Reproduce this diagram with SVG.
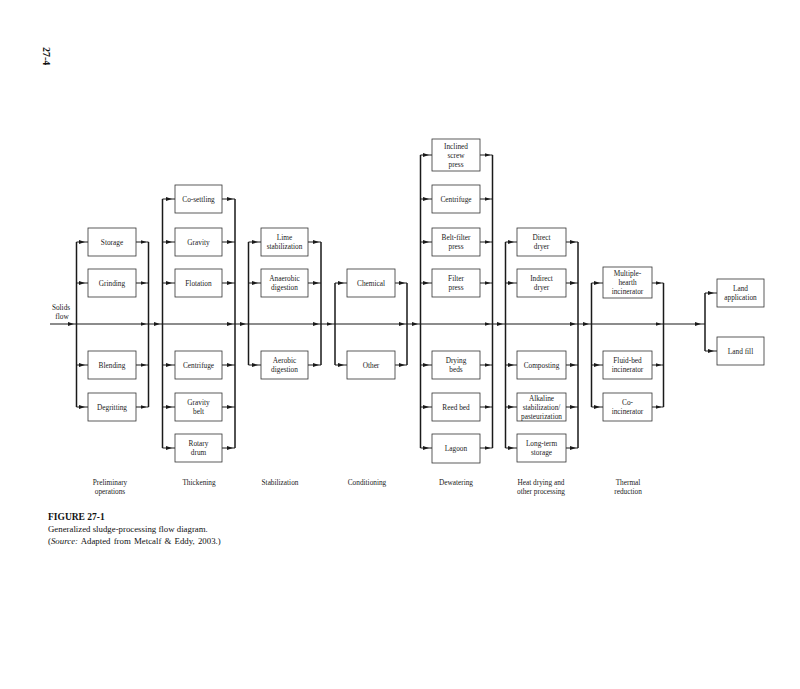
<svg xmlns="http://www.w3.org/2000/svg" width="800" height="689" viewBox="0 0 800 689">
<style>
.bg{fill:#fff}
.box{fill:#fff;stroke:#333;stroke-width:0.8}
.t{font-family:"Liberation Serif","Times New Roman",serif;font-size:7.3px;fill:#222;text-anchor:middle}
.bus{fill:none;stroke:#1a1a1a;stroke-width:1.5}
.ln{fill:none;stroke:#1a1a1a;stroke-width:1;marker-mid:url(#a)}
.main{fill:none;stroke:#1a1a1a;stroke-width:1.2;marker-mid:url(#a)}
.cap{font-family:"Liberation Serif","Times New Roman",serif;fill:#111}
</style>
<defs>
<marker id="a" viewBox="0 0 6 4" refX="6" refY="2" markerWidth="6" markerHeight="4" markerUnits="userSpaceOnUse" orient="auto"><path d="M0,0 L6,2 L0,4 z" fill="#1a1a1a"/></marker>
</defs>
<rect class="bg" x="0" y="0" width="800" height="689"/>
<text class="cap" x="0" y="0" font-size="10" font-weight="bold" transform="translate(43,47) rotate(90)">27-4</text>

<g id="connectors">
<path class="main" d="M50 324 H74 H146.5 H160 H233 H246 H319 H332.5 H405 H418 H490.5 H503 H576 H589 H661.5 H701 H705"/>
<!-- stage 1 -->
<path class="bus" d="M76.5 242 V407 M148.5 242 V407"/>
<path class="ln" d="M76.5 242 H85 H88"/><path class="ln" d="M76.5 283 H85 H88"/><path class="ln" d="M76.5 365 H85 H88"/><path class="ln" d="M76.5 407 H85 H88"/>
<path class="ln" d="M136 242 H146.5 H148.5"/><path class="ln" d="M136 283 H146.5 H148.5"/><path class="ln" d="M136 365 H146.5 H148.5"/><path class="ln" d="M136 407 H146.5 H148.5"/>
<!-- stage 2 -->
<path class="bus" d="M162.5 199 V448 M235 199 V448"/>
<path class="ln" d="M162.5 199 H172 H175"/><path class="ln" d="M162.5 242 H172 H175"/><path class="ln" d="M162.5 283 H172 H175"/><path class="ln" d="M162.5 365 H172 H175"/><path class="ln" d="M162.5 407 H172 H175"/><path class="ln" d="M162.5 448 H172 H175"/>
<path class="ln" d="M222 199 H233 H235"/><path class="ln" d="M222 242 H233 H235"/><path class="ln" d="M222 283 H233 H235"/><path class="ln" d="M222 365 H233 H235"/><path class="ln" d="M222 407 H233 H235"/><path class="ln" d="M222 448 H233 H235"/>
<!-- stage 3 -->
<path class="bus" d="M248.5 242 V365 M321 242 V365"/>
<path class="ln" d="M248.5 242 H258 H261"/><path class="ln" d="M248.5 283 H258 H261"/><path class="ln" d="M248.5 365 H258 H261"/>
<path class="ln" d="M308 242 H319 H321"/><path class="ln" d="M308 283 H319 H321"/><path class="ln" d="M308 365 H319 H321"/>
<!-- stage 4 -->
<path class="bus" d="M335 283 V365 M407 283 V365"/>
<path class="ln" d="M335 283 H344 H347"/><path class="ln" d="M335 365 H344 H347"/>
<path class="ln" d="M395 283 H405 H407"/><path class="ln" d="M395 365 H405 H407"/>
<!-- stage 5 -->
<path class="bus" d="M420.5 155 V448 M492.5 155 V448"/>
<path class="ln" d="M420.5 155 H429 H432"/><path class="ln" d="M420.5 199 H429 H432"/><path class="ln" d="M420.5 242 H429 H432"/><path class="ln" d="M420.5 283 H429 H432"/><path class="ln" d="M420.5 365 H429 H432"/><path class="ln" d="M420.5 407 H429 H432"/><path class="ln" d="M420.5 448 H429 H432"/>
<path class="ln" d="M480 155 H490.5 H492.5"/><path class="ln" d="M480 199 H490.5 H492.5"/><path class="ln" d="M480 242 H490.5 H492.5"/><path class="ln" d="M480 283 H490.5 H492.5"/><path class="ln" d="M480 365 H490.5 H492.5"/><path class="ln" d="M480 407 H490.5 H492.5"/><path class="ln" d="M480 448 H490.5 H492.5"/>
<!-- stage 6 -->
<path class="bus" d="M505.5 242 V448 M578 242 V448"/>
<path class="ln" d="M505.5 242 H514 H517"/><path class="ln" d="M505.5 283 H514 H517"/><path class="ln" d="M505.5 365 H514 H517"/><path class="ln" d="M505.5 407 H514 H517"/><path class="ln" d="M505.5 448 H514 H517"/>
<path class="ln" d="M566 242 H576 H578"/><path class="ln" d="M566 283 H576 H578"/><path class="ln" d="M566 365 H576 H578"/><path class="ln" d="M566 407 H576 H578"/><path class="ln" d="M566 448 H576 H578"/>
<!-- stage 7 -->
<path class="bus" d="M591.5 283 V407 M663.5 283 V407"/>
<path class="ln" d="M591.5 283 H600 H603"/><path class="ln" d="M591.5 365 H600 H603"/><path class="ln" d="M591.5 407 H600 H603"/>
<path class="ln" d="M652 283 H661.5 H663.5"/><path class="ln" d="M652 365 H661.5 H663.5"/><path class="ln" d="M652 407 H661.5 H663.5"/>
<!-- final -->
<path class="bus" d="M705 293 V351"/>
<path class="ln" d="M705 293 H714 H717"/><path class="ln" d="M705 351 H714 H717"/>
</g>

<text class="t" x="61" y="310">Solids</text>
<text class="t" x="62" y="318.5">flow</text>

<!-- Stage 1 nodes -->
<g id="n-storage"><rect class="box" x="88" y="228" width="48" height="28"/><text class="t" x="112" y="244.5">Storage</text></g>
<g id="n-grinding"><rect class="box" x="88" y="269" width="48" height="28"/><text class="t" x="112" y="285.5">Grinding</text></g>
<g id="n-blending"><rect class="box" x="88" y="351" width="48" height="28"/><text class="t" x="112" y="367.5">Blending</text></g>
<g id="n-degritting"><rect class="box" x="88" y="393" width="48" height="28"/><text class="t" x="112" y="409.5">Degritting</text></g>

<!-- Stage 2 nodes -->
<g id="n-cosettling"><rect class="box" x="175" y="185" width="47" height="28"/><text class="t" x="198.5" y="201.5">Co-settling</text></g>
<g id="n-gravity"><rect class="box" x="175" y="228" width="47" height="28"/><text class="t" x="198.5" y="244.5">Gravity</text></g>
<g id="n-flotation"><rect class="box" x="175" y="269" width="47" height="28"/><text class="t" x="198.5" y="285.5">Flotation</text></g>
<g id="n-centrifuge1"><rect class="box" x="175" y="351" width="47" height="28"/><text class="t" x="198.5" y="367.5">Centrifuge</text></g>
<g id="n-gravitybelt"><rect class="box" x="175" y="393" width="47" height="28"/><text class="t" x="198.5" y="405">Gravity</text><text class="t" x="198.5" y="414">belt</text></g>
<g id="n-rotarydrum"><rect class="box" x="175" y="434" width="47" height="28"/><text class="t" x="198.5" y="446">Rotary</text><text class="t" x="198.5" y="455">drum</text></g>

<!-- Stage 3 nodes -->
<g id="n-lime"><rect class="box" x="261" y="228" width="47" height="28"/><text class="t" x="284.5" y="240">Lime</text><text class="t" x="284.5" y="249">stabilization</text></g>
<g id="n-anaerobic"><rect class="box" x="261" y="269" width="47" height="28"/><text class="t" x="284.5" y="281">Anaerobic</text><text class="t" x="284.5" y="290">digestion</text></g>
<g id="n-aerobic"><rect class="box" x="261" y="351" width="47" height="28"/><text class="t" x="284.5" y="363">Aerobic</text><text class="t" x="284.5" y="372">digestion</text></g>

<!-- Stage 4 nodes -->
<g id="n-chemical"><rect class="box" x="347" y="269" width="48" height="28"/><text class="t" x="371" y="285.5">Chemical</text></g>
<g id="n-other"><rect class="box" x="347" y="351" width="48" height="28"/><text class="t" x="371" y="367.5">Other</text></g>

<!-- Stage 5 nodes -->
<g id="n-screwpress"><rect class="box" x="432" y="139" width="48" height="32"/><text class="t" x="456" y="148.5">Inclined</text><text class="t" x="456" y="157.5">screw</text><text class="t" x="456" y="166.5">press</text></g>
<g id="n-centrifuge2"><rect class="box" x="432" y="185" width="48" height="28"/><text class="t" x="456" y="201.5">Centrifuge</text></g>
<g id="n-beltfilter"><rect class="box" x="432" y="228" width="48" height="28"/><text class="t" x="456" y="240">Belt-filter</text><text class="t" x="456" y="249">press</text></g>
<g id="n-filterpress"><rect class="box" x="432" y="269" width="48" height="28"/><text class="t" x="456" y="281">Filter</text><text class="t" x="456" y="290">press</text></g>
<g id="n-dryingbeds"><rect class="box" x="432" y="351" width="48" height="28"/><text class="t" x="456" y="363">Drying</text><text class="t" x="456" y="372">beds</text></g>
<g id="n-reedbed"><rect class="box" x="432" y="393" width="48" height="28"/><text class="t" x="456" y="409.5">Reed bed</text></g>
<g id="n-lagoon"><rect class="box" x="432" y="434" width="48" height="29"/><text class="t" x="456" y="450.5">Lagoon</text></g>

<!-- Stage 6 nodes -->
<g id="n-directdryer"><rect class="box" x="517" y="228" width="49" height="28"/><text class="t" x="541.5" y="240">Direct</text><text class="t" x="541.5" y="249">dryer</text></g>
<g id="n-indirectdryer"><rect class="box" x="517" y="269" width="49" height="28"/><text class="t" x="541.5" y="281">Indirect</text><text class="t" x="541.5" y="290">dryer</text></g>
<g id="n-composting"><rect class="box" x="517" y="351" width="49" height="28"/><text class="t" x="541.5" y="367.5">Composting</text></g>
<g id="n-alkaline"><rect class="box" x="517" y="393" width="49" height="28"/><text class="t" x="541.5" y="400.5">Alkaline</text><text class="t" x="541.5" y="409.5">stabilization/</text><text class="t" x="541.5" y="418.5">pasteurization</text></g>
<g id="n-longterm"><rect class="box" x="517" y="434" width="49" height="28"/><text class="t" x="541.5" y="446">Long-term</text><text class="t" x="541.5" y="455">storage</text></g>

<!-- Stage 7 nodes -->
<g id="n-multiplehearth"><rect class="box" x="603" y="267" width="49" height="31"/><text class="t" x="627.5" y="276">Multiple-</text><text class="t" x="627.5" y="285">hearth</text><text class="t" x="627.5" y="294">incinerator</text></g>
<g id="n-fluidbed"><rect class="box" x="603" y="351" width="49" height="28"/><text class="t" x="627.5" y="363">Fluid-bed</text><text class="t" x="627.5" y="372">incinerator</text></g>
<g id="n-coincinerator"><rect class="box" x="603" y="393" width="49" height="28"/><text class="t" x="627.5" y="405">Co-</text><text class="t" x="627.5" y="414">incinerator</text></g>

<!-- Final nodes -->
<g id="n-landapp"><rect class="box" x="717" y="279" width="47" height="28"/><text class="t" x="740.5" y="291">Land</text><text class="t" x="740.5" y="300">application</text></g>
<g id="n-landfill"><rect class="box" x="717" y="337" width="47" height="28"/><text class="t" x="740.5" y="353.5">Land fill</text></g>

<!-- Stage labels -->
<g id="labels">
<text class="t" x="110" y="485">Preliminary</text><text class="t" x="110" y="494">operations</text>
<text class="t" x="199" y="485">Thickening</text>
<text class="t" x="280" y="485">Stabilization</text>
<text class="t" x="367" y="485">Conditioning</text>
<text class="t" x="456" y="485">Dewatering</text>
<text class="t" x="541" y="485">Heat drying and</text><text class="t" x="541" y="494">other processing</text>
<text class="t" x="628" y="485">Thermal</text><text class="t" x="628" y="494">reduction</text>
</g>

<g id="caption">
<text class="cap" x="48" y="520" font-size="9.5" font-weight="bold">FIGURE 27-1</text>
<text class="cap" x="48" y="532" font-size="8.8">Generalized sludge-processing flow diagram.</text>
<text class="cap" x="48" y="544" font-size="8.8" word-spacing="1">(<tspan font-style="italic">Source:</tspan> Adapted from Metcalf &amp; Eddy, 2003.)</text>
</g>
</svg>
